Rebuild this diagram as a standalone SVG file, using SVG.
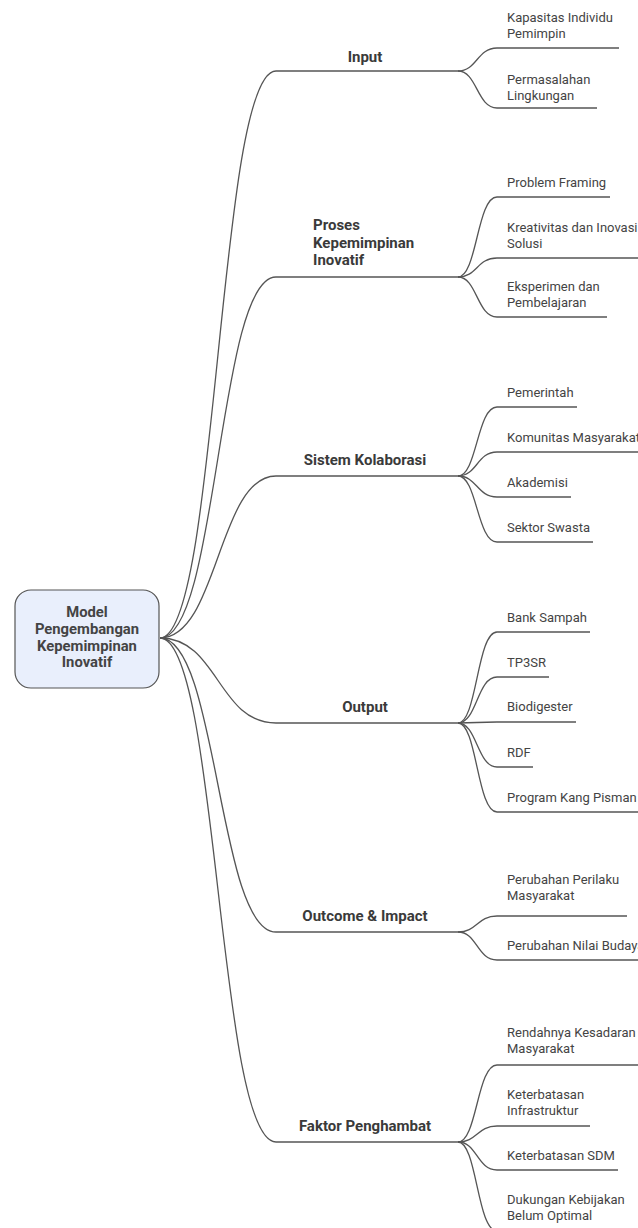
<svg xmlns="http://www.w3.org/2000/svg" width="638" height="1228" viewBox="0 0 638 1228">
<style>
.edge{fill:none;stroke:#555;stroke-width:1.3}
.root{fill:#e9effc;stroke:#555;stroke-width:1.2}
.rt{font-family:Roboto,"Liberation Sans",sans-serif;font-weight:bold;font-size:14.8px;fill:#444;text-anchor:middle}
.bt{font-family:Roboto,"Liberation Sans",sans-serif;font-weight:bold;font-size:15px;fill:#3a3a3a}
.ct{font-family:Roboto,"Liberation Sans",sans-serif;font-size:13px;fill:#444}
</style>
<rect width="638" height="1228" fill="#fff"/>
<g id="connectors">
<path class="edge" d="M160,638 C218,638 218,71 276,71 H458"/>
<path class="edge" d="M160,638 C218,638 218,277 276,277 H458"/>
<path class="edge" d="M160,638 C218,638 218,476 276,476 H458"/>
<path class="edge" d="M160,638 C218,638 218,723 276,723 H458"/>
<path class="edge" d="M160,638 C218,638 218,932 276,932 H458"/>
<path class="edge" d="M160,638 C218,638 218,1142 276,1142 H458"/>
<path class="edge" d="M458,71 C477,71 477,48 497,48 H619"/>
<path class="edge" d="M458,71 C477,71 477,108 497,108 H597"/>
<path class="edge" d="M458,277 C477,277 477,197 497,197 H610"/>
<path class="edge" d="M458,277 C477,277 477,258 497,258 H640"/>
<path class="edge" d="M458,277 C477,277 477,317 497,317 H607"/>
<path class="edge" d="M458,476 C477,476 477,407 497,407 H577"/>
<path class="edge" d="M458,476 C477,476 477,452 497,452 H640"/>
<path class="edge" d="M458,476 C477,476 477,497 497,497 H571"/>
<path class="edge" d="M458,476 C477,476 477,542 497,542 H593"/>
<path class="edge" d="M458,723 C477,723 477,632 497,632 H590"/>
<path class="edge" d="M458,723 C477,723 477,677 497,677 H549"/>
<path class="edge" d="M458,723 C477,723 477,722 497,722 H576"/>
<path class="edge" d="M458,723 C477,723 477,767 497,767 H533"/>
<path class="edge" d="M458,723 C477,723 477,812 497,812 H640"/>
<path class="edge" d="M458,932 C477,932 477,916 497,916 H627"/>
<path class="edge" d="M458,932 C477,932 477,960 497,960 H640"/>
<path class="edge" d="M458,1142 C477,1142 477,1065 497,1065 H640"/>
<path class="edge" d="M458,1142 C477,1142 477,1126 497,1126 H590"/>
<path class="edge" d="M458,1142 C477,1142 477,1170 497,1170 H618"/>
<path class="edge" d="M458,1142 C477,1142 477,1231 497,1231 H620"/>
</g>
<g id="root">
<rect class="root" x="15" y="590" width="144" height="98" rx="16"/>
<text class="rt" x="87" y="617">Model</text>
<text class="rt" x="87" y="634">Pengembangan</text>
<text class="rt" x="87" y="650.5">Kepemimpinan</text>
<text class="rt" x="87" y="667">Inovatif</text>
</g>
<g id="n-input"><text class="bt" x="365" y="62" text-anchor="middle">Input</text></g>
<g id="n-proses">
<text class="bt" x="313" y="230">Proses</text>
<text class="bt" x="313" y="247.5">Kepemimpinan</text>
<text class="bt" x="313" y="265">Inovatif</text>
</g>
<g id="n-sistem"><text class="bt" x="365" y="465" text-anchor="middle">Sistem Kolaborasi</text></g>
<g id="n-output"><text class="bt" x="365" y="712" text-anchor="middle">Output</text></g>
<g id="n-outcome"><text class="bt" x="365" y="921" text-anchor="middle">Outcome &amp; Impact</text></g>
<g id="n-faktor"><text class="bt" x="365" y="1131" text-anchor="middle">Faktor Penghambat</text></g>
<g id="c-kapasitas"><text class="ct" x="507" y="22">Kapasitas Individu</text><text class="ct" x="507" y="37.5">Pemimpin</text></g>
<g id="c-permasalahan"><text class="ct" x="507" y="84">Permasalahan</text><text class="ct" x="507" y="99.5">Lingkungan</text></g>
<g id="c-problem"><text class="ct" x="507" y="187">Problem Framing</text></g>
<g id="c-kreativitas"><text class="ct" x="507" y="232">Kreativitas dan Inovasi</text><text class="ct" x="507" y="247.5">Solusi</text></g>
<g id="c-eksperimen"><text class="ct" x="507" y="291">Eksperimen dan</text><text class="ct" x="507" y="306.5">Pembelajaran</text></g>
<g id="c-pemerintah"><text class="ct" x="507" y="397">Pemerintah</text></g>
<g id="c-komunitas"><text class="ct" x="507" y="442">Komunitas Masyarakat</text></g>
<g id="c-akademisi"><text class="ct" x="507" y="487">Akademisi</text></g>
<g id="c-sektor"><text class="ct" x="507" y="532">Sektor Swasta</text></g>
<g id="c-bank"><text class="ct" x="507" y="622">Bank Sampah</text></g>
<g id="c-tp3sr"><text class="ct" x="507" y="667">TP3SR</text></g>
<g id="c-biodigester"><text class="ct" x="507" y="711">Biodigester</text></g>
<g id="c-rdf"><text class="ct" x="507" y="757">RDF</text></g>
<g id="c-kangpisman"><text class="ct" x="507" y="802">Program Kang Pisman</text></g>
<g id="c-perilaku"><text class="ct" x="507" y="884">Perubahan Perilaku</text><text class="ct" x="507" y="899.5">Masyarakat</text></g>
<g id="c-budaya"><text class="ct" x="507" y="950">Perubahan Nilai Budaya</text></g>
<g id="c-kesadaran"><text class="ct" x="507" y="1037">Rendahnya Kesadaran</text><text class="ct" x="507" y="1052.5">Masyarakat</text></g>
<g id="c-infra"><text class="ct" x="507" y="1099">Keterbatasan</text><text class="ct" x="507" y="1114.5">Infrastruktur</text></g>
<g id="c-sdm"><text class="ct" x="507" y="1160">Keterbatasan SDM</text></g>
<g id="c-kebijakan"><text class="ct" x="507" y="1204">Dukungan Kebijakan</text><text class="ct" x="507" y="1219.5">Belum Optimal</text></g>
</svg>
